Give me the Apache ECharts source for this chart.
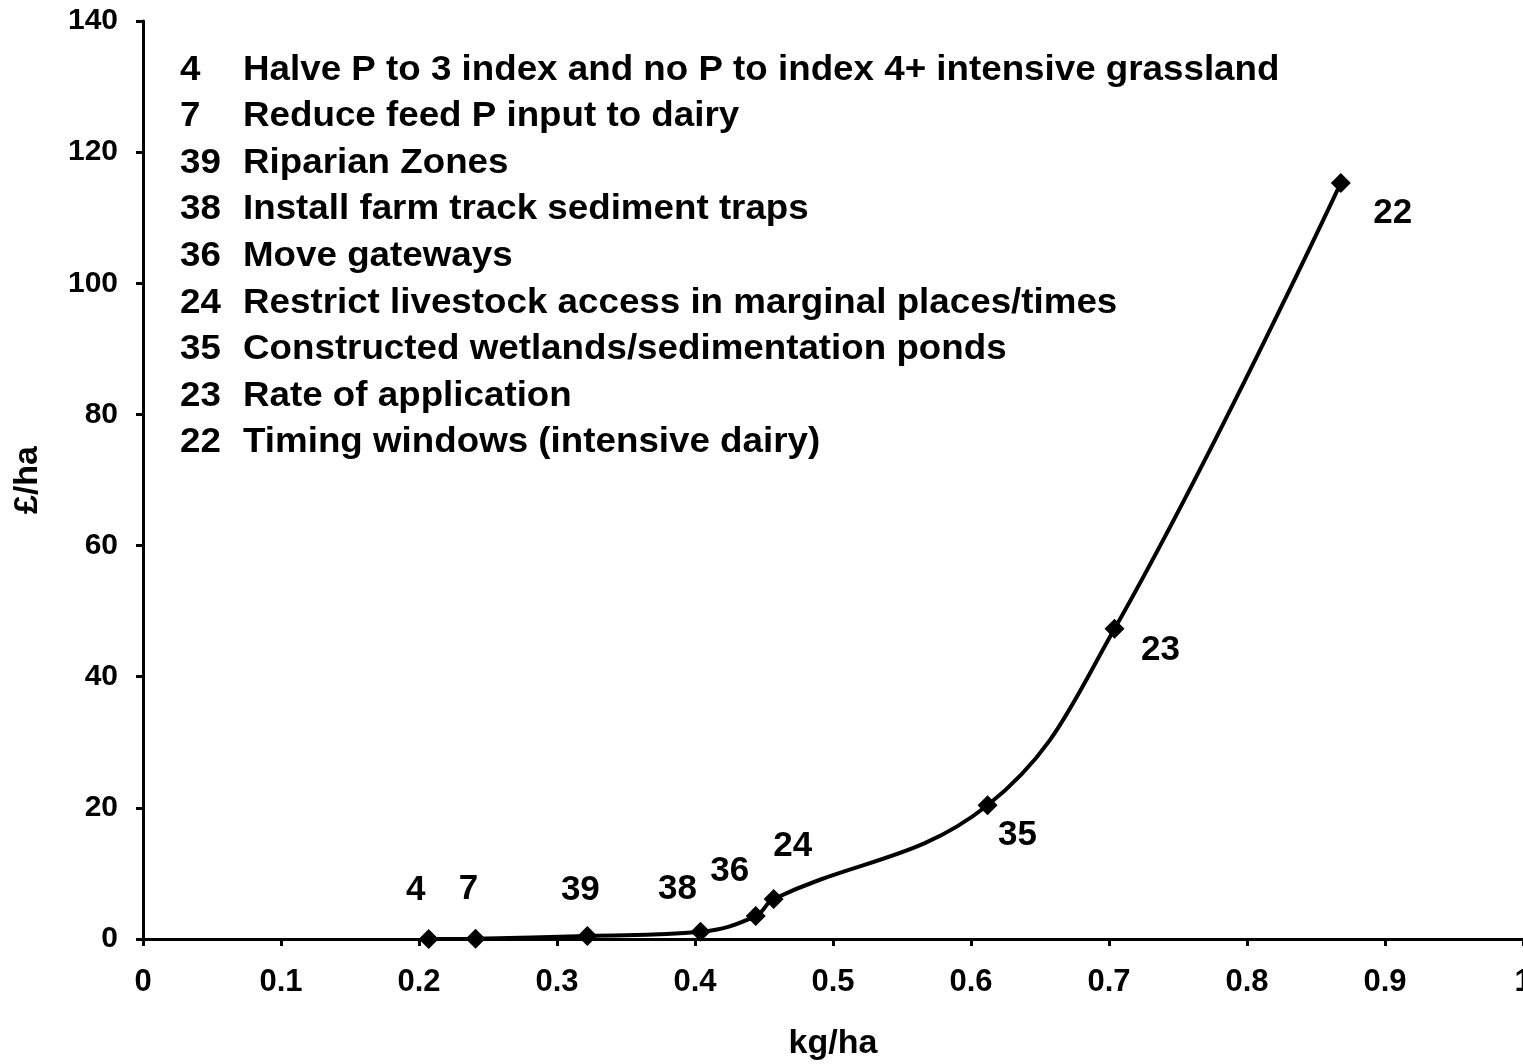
<!DOCTYPE html>
<html>
<head>
<meta charset="utf-8">
<script src="https://cdn.jsdelivr.net/npm/echarts@6/dist/echarts.min.js"></script>
<style>
  html, body { margin: 0; padding: 0; background: #fff; }
  #chart { width: 1523px; height: 1064px; }
</style>
</head>
<body>
<div id="chart"></div>
<script>
// measure codes, P reduction (kg/ha) and cost (£/ha)
var codes = ['4', '7', '39', '38', '36', '24', '35', '23', '22'];
var kgPerHa = [0.207, 0.241, 0.322, 0.404, 0.444, 0.457, 0.612, 0.704, 0.868];
var costPerHa = [0.0, 0.05, 0.45, 1.1, 3.5, 6.1, 20.4, 47.3, 115.3];
var measureNames = [
  'Halve P to 3 index and no P to index 4+ intensive grassland',
  'Reduce feed P input to dairy',
  'Riparian Zones',
  'Install farm track sediment traps',
  'Move gateways',
  'Restrict livestock access in marginal places/times',
  'Constructed wetlands/sedimentation ponds',
  'Rate of application',
  'Timing windows (intensive dairy)'
];

var font = 'Liberation Sans, Arial, sans-serif';

// where each point label sits relative to its marker
var labelOffsets = {
  '4': [-13, -49], '7': [-7, -49], '39': [-7, -46], '38': [-23, -42],
  '36': [-26, -45], '24': [19, -53], '35': [30, 30], '23': [46, 21], '22': [52, 30]
};

var chart = echarts.init(document.getElementById('chart'));

var points = codes.map(function (c, i) {
  return {
    value: [kgPerHa[i], costPerHa[i]],
    label: {
      show: true,
      position: 'inside',
      offset: labelOffsets[c],
      formatter: c,
      fontFamily: font,
      fontWeight: 'bold',
      fontSize: 35,
      color: '#000'
    }
  };
});

// legend block (code + description), drawn as text
var graphics = [];
codes.forEach(function (c, i) {
  var y = 70 + i * 46.6;
  graphics.push({
    type: 'text', x: 180, y: y, scaleX: 1.05,
    style: { text: c, font: 'bold 35px ' + font, fill: '#000', textVerticalAlign: 'middle' }
  });
  graphics.push({
    type: 'text', x: 243, y: y, scaleX: 1.05,
    style: { text: measureNames[i], font: 'bold 35px ' + font, fill: '#000', textVerticalAlign: 'middle' }
  });
});

var axisCommon = {
  axisLine: { show: true, lineStyle: { color: '#000', width: 3 } },
  axisTick: { show: true, inside: false, length: 7, lineStyle: { color: '#000', width: 3 } },
  splitLine: { show: false },
  nameTextStyle: { fontFamily: font, fontWeight: 'bold', fontSize: 34, color: '#000' }
};

var option = {
  animation: false,
  backgroundColor: '#fff',
  grid: { left: 143, right: 0, top: 21, bottom: 125, containLabel: false, outerBoundsMode: 'none' },
  xAxis: Object.assign({}, axisCommon, {
    type: 'value', min: 0, max: 1, interval: 0.1,
    name: 'kg/ha', nameLocation: 'middle', nameGap: 88,
    axisLabel: {
      margin: 28, fontFamily: font, fontWeight: 'bold', fontSize: 31, color: '#000',
      showMaxLabel: true,
      formatter: function (v) { return String(Math.round(v * 10) / 10); }
    }
  }),
  yAxis: Object.assign({}, axisCommon, {
    type: 'value', min: 0, max: 140, interval: 20,
    name: '£/ha', nameLocation: 'middle', nameGap: 98, nameRotate: 90,
    axisLabel: { margin: 25, fontFamily: font, fontWeight: 'bold', fontSize: 30, color: '#000' }
  }),
  graphic: graphics,
  series: [{
    type: 'line',
    data: points,
    smooth: 0.4,
    symbol: 'diamond',
    symbolSize: 20,
    lineStyle: { color: '#000', width: 4 },
    itemStyle: { color: '#000' },
    z: 5
  }]
};

chart.setOption(option);
</script>
</body>
</html>
